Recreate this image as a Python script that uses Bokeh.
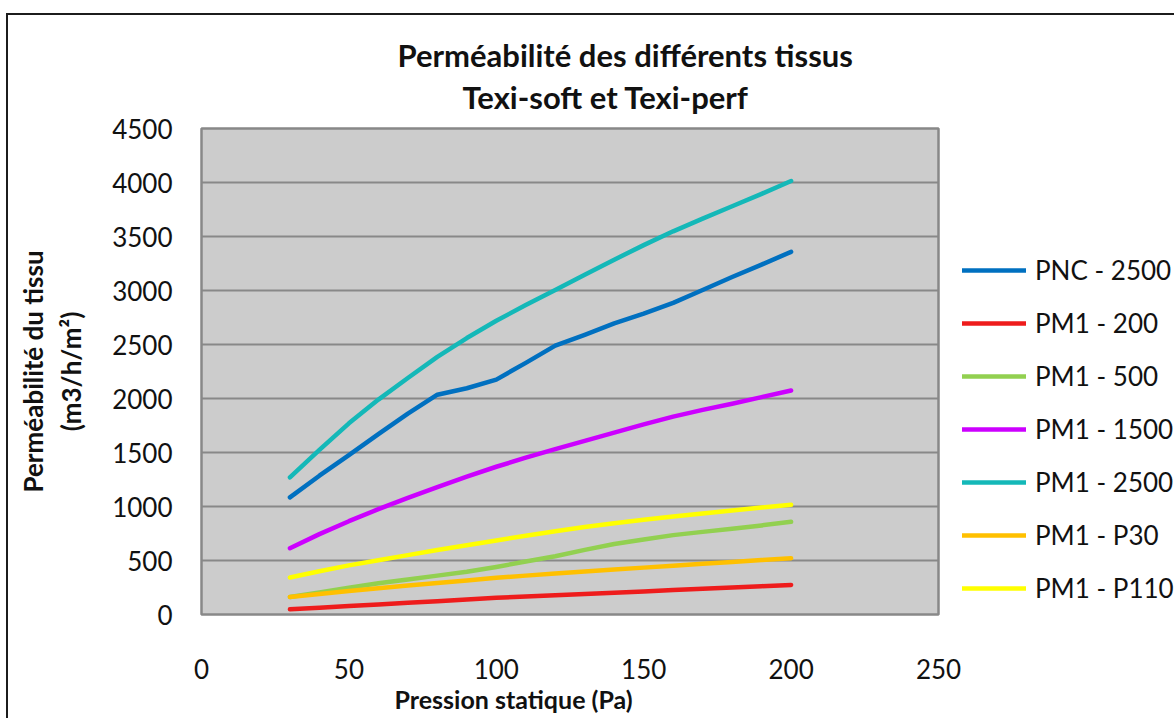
from bokeh.plotting import figure
from bokeh.models import FixedTicker, Legend, LegendItem, Title, Range1d
from bokeh.embed import file_html
from bokeh.resources import INLINE

# ---------------- data ----------------
pressure = [30, 40, 50, 60, 70, 80, 90, 100, 110, 120, 130, 140, 150, 160, 170, 180, 190, 200]

pnc_2500 = [1085, 1285, 1475, 1670, 1860, 2035, 2095, 2175, 2330, 2490, 2590, 2695, 2785, 2885, 3005, 3125, 3240, 3358]
pm1_200 = [48, 63, 78, 93, 108, 123, 140, 154, 166, 178, 190, 202, 214, 226, 238, 250, 262, 274]
pm1_500 = [162, 205, 248, 290, 325, 360, 395, 440, 490, 540, 598, 653, 695, 735, 765, 793, 825, 858]
pm1_1500 = [614, 744, 864, 975, 1080, 1180, 1277, 1368, 1452, 1532, 1608, 1684, 1760, 1832, 1895, 1952, 2013, 2074]
pm1_2500 = [1270, 1525, 1770, 1990, 2190, 2385, 2560, 2720, 2865, 3005, 3145, 3285, 3420, 3548, 3665, 3780, 3895, 4014]
pm1_p30 = [162, 190, 217, 243, 268, 292, 315, 340, 360, 380, 398, 416, 434, 451, 469, 486, 504, 521]
pm1_p110 = [342, 400, 455, 502, 550, 597, 642, 685, 730, 770, 810, 845, 877, 908, 936, 963, 990, 1016]

series_names = ["PNC - 2500", "PM1 - 200", "PM1 - 500", "PM1 - 1500", "PM1 - 2500", "PM1 - P30", "PM1 - P110"]
series_values = [pnc_2500, pm1_200, pm1_500, pm1_1500, pm1_2500, pm1_p30, pm1_p110]
series_colors = ["#0070C0", "#EE1C1C", "#92D050", "#CC00FF", "#14B8B8", "#FFC000", "#FFFF00"]

x_ticks = [0, 50, 100, 150, 200, 250]
y_ticks = [0, 500, 1000, 1500, 2000, 2500, 3000, 3500, 4000, 4500]

title_line1 = "Perméabilité des différents tissus"
title_line2 = "Texi-soft et Texi-perf"
x_title = "Pression statique (Pa)"
y_title = "Perméabilité du tissu\n(m3/h/m²)"

FONT = "Lato"
TXT = "#111111"

# ---------------- figure ----------------
p = figure(
    frame_width=737, frame_height=486,
    min_border_left=193, min_border_top=113, min_border_right=234, min_border_bottom=104,
    x_range=Range1d(0, 250), y_range=Range1d(0, 4500),
    output_backend="svg", toolbar_location=None,
    background_fill_color="#CCCCCC", border_fill_color="white",
)
p.styles = {"border-top": "2px solid #1c1c1c", "border-left": "2px solid #1c1c1c",
            "margin-top": "13px", "margin-left": "6px"}

p.outline_line_color = "#888888"
p.outline_line_width = 2.5

p.xgrid.visible = False
p.ygrid.ticker = FixedTicker(ticks=y_ticks)
p.ygrid.grid_line_color = "#888888"
p.ygrid.grid_line_width = 2

for ax in (p.xaxis[0], p.yaxis[0]):
    ax.axis_line_color = None
    ax.major_tick_line_color = None
    ax.minor_tick_line_color = None
    ax.major_label_text_font = FONT
    ax.major_label_text_font_size = "26px"
    ax.major_label_text_color = TXT

p.xaxis.ticker = FixedTicker(ticks=x_ticks)
p.yaxis.ticker = FixedTicker(ticks=y_ticks)
p.xaxis.major_label_standoff = 38
p.yaxis.major_label_standoff = 23

p.yaxis.axis_label = y_title
p.yaxis.axis_label_text_font = FONT
p.yaxis.axis_label_text_font_style = "bold"
p.yaxis.axis_label_text_font_size = "26px"
p.yaxis.axis_label_text_line_height = 1.18
p.yaxis.axis_label_standoff = 22
p.yaxis.axis_label_text_color = TXT

# titles (p.title is the outer line, the added one sits next to the frame)
p.title.text = title_line1
p.title.text_font = FONT
p.title.text_font_style = "bold"
p.title.text_font_size = "31px"
p.title.align = "left"
p.title.offset = 196
p.title.standoff = -22
p.title.text_color = TXT

t2 = Title(text=title_line2, text_font=FONT, text_font_style="bold", text_font_size="31px",
           align="left", offset=261, text_color=TXT, standoff=26)
p.add_layout(t2, "above")

xt = Title(text=x_title, text_font=FONT, text_font_style="bold", text_font_size="25px",
           align="left", offset=193, text_color=TXT, standoff=0)
p.add_layout(xt, "below")

# lines
items = []
for name, vals, col in zip(series_names, series_values, series_colors):
    r = p.line(pressure, vals, line_color=col, line_width=4.5, line_cap="round", line_join="round")
    items.append(LegendItem(label=name, renderers=[r]))

legend = Legend(
    items=items, location=(24, 10), orientation="vertical",
    glyph_width=64, glyph_height=32, label_height=32, spacing=21,
    padding=0, margin=0, label_standoff=9,
    border_line_color=None, background_fill_alpha=0,
    label_text_font=FONT, label_text_font_size="26px", label_text_color=TXT,
)
p.add_layout(legend, "right")

open("out.html", "w").write(file_html(p, INLINE))
